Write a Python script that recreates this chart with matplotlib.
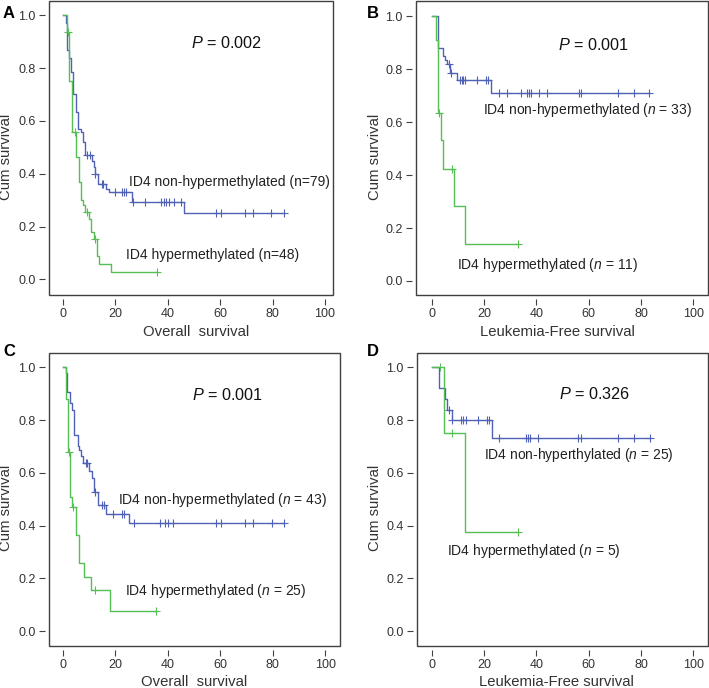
import matplotlib; matplotlib.use("Agg")
import matplotlib.pyplot as plt
from matplotlib.patches import Rectangle
import numpy as np

# panel A - overall survival, all patients
a_non_t = [0, 1.0, 1.7, 2.3, 2.9, 3.9, 4.8, 5.6, 6.9, 7.5, 8.4, 10.9, 11.8, 12.2, 13.5, 16.3, 17.5, 26.5, 46.0]
a_non_s = [1.0, 0.97, 0.867, 0.837, 0.785, 0.703, 0.634, 0.57, 0.558, 0.52, 0.47, 0.45, 0.425, 0.40, 0.362, 0.343, 0.331, 0.293, 0.253]
a_non_c = [9.0, 10.3, 12.3, 14.7, 15.4, 19.7, 22.5, 23.3, 24.2, 26.7, 31.2, 37.5, 38.4, 39.4, 40.5, 42.2, 45.2,
           58.3, 60.2, 69.3, 72.5, 79.5, 84.4]
a_hyp_t = [0, 1.4, 2.4, 3.5, 5.1, 6.0, 7.0, 7.6, 8.5, 10.0, 10.8, 11.8, 13.0, 13.6, 18.2]
a_hyp_s = [1.0, 0.937, 0.75, 0.557, 0.465, 0.37, 0.30, 0.28, 0.255, 0.228, 0.178, 0.152, 0.088, 0.06, 0.03]
a_hyp_c = [2.0, 4.5, 9.0, 12.3, 35.9]

# panel B - leukemia-free survival
b_non_t = [0, 2.5, 4.3, 5.2, 6.0, 6.9, 9.7, 22.7]
b_non_s = [1.0, 0.88, 0.85, 0.834, 0.818, 0.787, 0.757, 0.708]
b_non_c = [6.5, 7.3, 10.7, 11.4, 12.0, 12.6, 17.5, 20.7, 21.6, 25.7, 28.9, 34.0, 36.6, 37.3, 38.0, 40.9, 44.0,
           56.3, 57.0, 71.3, 77.3, 83.2]
b_hyp_t = [0, 1.5, 2.4, 3.4, 4.5, 8.7, 12.7]
b_hyp_s = [1.0, 0.909, 0.636, 0.532, 0.424, 0.283, 0.141]
b_hyp_c = [2.8, 7.6, 33.1]

# panel C - overall survival
c_non_t = [0, 1.0, 1.5, 2.7, 3.6, 4.3, 5.6, 6.1, 6.9, 7.8, 9.9, 11.0, 12.0, 13.5, 16.5, 25.2]
c_non_s = [1.0, 0.977, 0.907, 0.866, 0.837, 0.742, 0.70, 0.686, 0.665, 0.636, 0.607, 0.58, 0.528, 0.477, 0.445, 0.409]
c_non_c = [8.7, 9.2, 12.1, 14.7, 15.6, 19.2, 22.4, 23.3, 27.1, 36.9, 39.0, 40.1, 42.0,
           58.3, 60.2, 69.3, 72.5, 79.5, 84.4]
c_hyp_t = [0, 1.3, 1.9, 2.8, 3.6, 5.1, 6.0, 8.0, 10.8, 17.8]
c_hyp_s = [1.0, 0.88, 0.68, 0.51, 0.47, 0.365, 0.26, 0.207, 0.155, 0.078]
c_hyp_c = [2.2, 3.8, 12.1, 35.6]

# panel D - leukemia-free survival
d_non_t = [0, 2.9, 5.1, 5.7, 7.6, 22.9]
d_non_s = [1.0, 0.92, 0.88, 0.84, 0.80, 0.733]
d_non_c = [6.6, 7.9, 11.2, 12.1, 13.0, 17.8, 21.0, 21.9, 25.9, 35.9, 36.7, 37.6, 40.8,
           56.1, 56.9, 71.3, 77.3, 83.4]
d_hyp_t = [0, 4.8, 12.9]
d_hyp_s = [1.0, 0.75, 0.375]
d_hyp_c = [3.1, 7.8, 33.2]

BLUE = '#4f62b5'
GREEN = '#55bf55'
FRAME = '#404040'

plt.rcParams['font.family'] = ['Liberation Sans', 'DejaVu Sans']
plt.rcParams['mathtext.fontset'] = 'custom'
plt.rcParams['mathtext.it'] = 'Liberation Sans:italic'
plt.rcParams['mathtext.rm'] = 'Liberation Sans'


def km(ax, t, s, cens, color):
    t = np.array(t); s = np.array(s)
    end = max(cens[-1], t[-1])
    x = np.append(t, end)
    y = np.append(s, s[-1])
    ax.step(x, y, where='post', color=color, lw=1)
    idx = np.searchsorted(t, cens, side='right') - 1
    ax.plot(cens, s[idx], ls='none', marker='+', ms=6, mew=0.8, color=color)


def panel(rect, xlim, ylim, non, hyp, xlabel, xlc, ylc, ptxt, ppos, nontxt, nonpos, hyptxt, hyppos):
    ax = fig.add_axes(rect)
    km(ax, *non, BLUE)
    km(ax, *hyp, GREEN)
    ax.set_xlim(*xlim)
    ax.set_ylim(*ylim)
    ax.set_xticks([0, 20, 40, 60, 80, 100])
    ax.set_yticks([0, 0.2, 0.4, 0.6, 0.8, 1.0])
    ax.set_yticklabels(['0.0', '0.2', '0.4', '0.6', '0.8', '1.0'])
    for sp in ax.spines.values():
        sp.set_visible(False)
    ax.spines['left'].set_position(('outward', 3))
    ax.spines['bottom'].set_position(('outward', 3))
    ax.add_patch(Rectangle((0, 0), 1, 1, transform=ax.transAxes, fill=False,
                           ec=FRAME, lw=1, clip_on=False))
    ax.tick_params(length=4, width=0.8, color=FRAME, labelsize=9, labelcolor='#333333', pad=2.5)
    ax.set_ylabel('Cum survival', fontsize=10.7, color='#333333')
    ax.set_xlabel(xlabel, fontsize=10.7, color='#333333')
    ax.yaxis.set_label_coords(*ylc)
    ax.xaxis.set_label_coords(*xlc)
    ax.yaxis.label.set_va('center')
    ax.xaxis.label.set_va('center')
    ax.text(ppos[0], ppos[1], ptxt, fontsize=11.7, va='center', color='#111111')
    ax.text(nonpos[0], nonpos[1], nontxt, fontsize=10, va='center', color='#222222')
    ax.text(hyppos[0], hyppos[1], hyptxt, fontsize=10, va='center', color='#222222')
    return ax


fig = plt.figure(figsize=(7.09, 6.88), dpi=100)

panel([0.0691, 0.5712, 0.4006, 0.4273], (-5.34, 103.05), (-0.059, 1.054),
      (a_non_t, a_non_s, a_non_c), (a_hyp_t, a_hyp_s, a_hyp_c), 'Overall  survival',
      (0.517, -0.126), (-0.151, 0.47),
      '$P$ = 0.002', (49, 0.894),
      'ID4 non-hypermethylated (n=79)', (25.2, 0.37),
      'ID4 hypermethylated (n=48)', (24.2, 0.092))

panel([0.5867, 0.5712, 0.4119, 0.4273], (-6.0, 105.6), (-0.053, 1.057),
      (b_non_t, b_non_s, b_non_c), (b_hyp_t, b_hyp_s, b_hyp_c), 'Leukemia-Free survival',
      (0.483, -0.126), (-0.14, 0.47),
      '$P$ = 0.001', (48.4, 0.89),
      'ID4 non-hypermethylated ($n$ = 33)', (19.7, 0.645),
      'ID4 hypermethylated ($n$ = 11)', (9.5, 0.06))

panel([0.0691, 0.0610, 0.4104, 0.4259], (-5.34, 105.6), (-0.056, 1.054),
      (c_non_t, c_non_s, c_non_c), (c_hyp_t, c_hyp_s, c_hyp_c), 'Overall  survival',
      (0.50, -0.123), (-0.148, 0.47),
      '$P$ = 0.001', (49, 0.895),
      'ID4 non-hypermethylated ($n$ = 43)', (21, 0.497),
      'ID4 hypermethylated ($n$ = 25)', (23.5, 0.154))

panel([0.5881, 0.0610, 0.4104, 0.4259], (-5.6, 105.6), (-0.056, 1.054),
      (d_non_t, d_non_s, d_non_c), (d_hyp_t, d_hyp_s, d_hyp_c), 'Leukemia-Free survival',
      (0.48, -0.123), (-0.144, 0.47),
      '$P$ = 0.326', (48.7, 0.90),
      'ID4 non-hyperthylated ($n$ = 25)', (20, 0.668),
      'ID4 hypermethylated ($n$ = 5)', (5.7, 0.305))

for lab, x, y in [('A', 3, 14), ('B', 367, 14), ('C', 3, 351), ('D', 367, 351)]:
    fig.text(x / 709, 1 - y / 688, lab, fontsize=12, fontweight='bold', va='center', ha='left')

fig.savefig('out.png', dpi=100)
